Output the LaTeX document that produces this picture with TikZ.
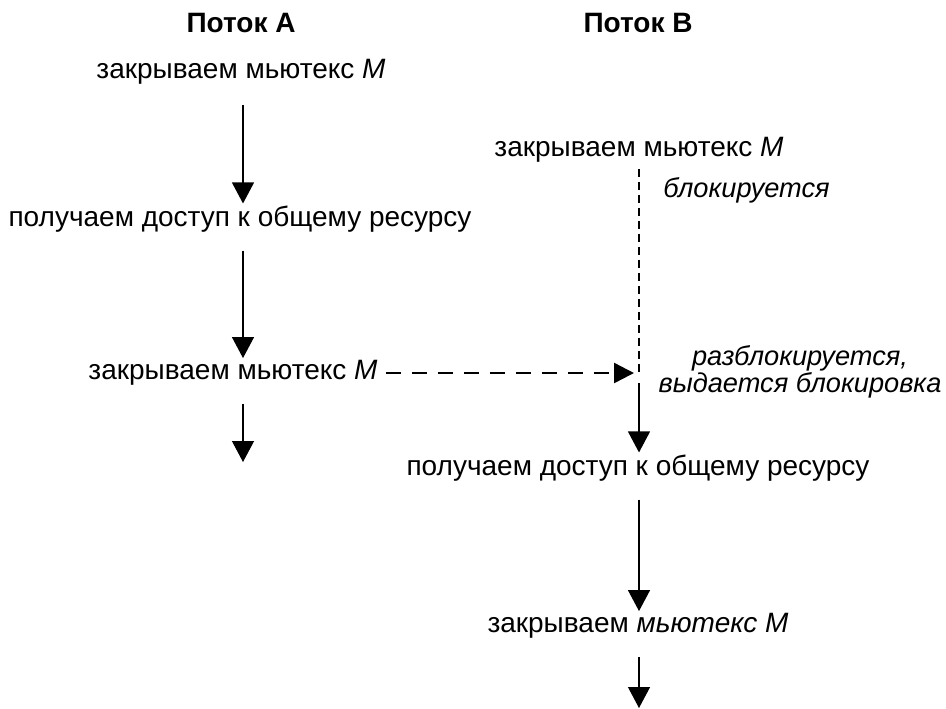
\documentclass[tikz,border=0pt]{standalone}
\usepackage{fontspec}
\setmainfont{Liberation Sans}
\usepackage{tikz}
\usetikzlibrary{arrows.meta}
\tikzset{
  stepnode/.style={inner sep=1pt,font=\fontsize{14}{14}\selectfont},
  headnode/.style={inner sep=1pt,font=\fontsize{14}{14}\selectfont\bfseries},
  notenode/.style={inner sep=1pt,align=center,font=\fontsize{13.6}{13.6}\selectfont\itshape},
  flowarrow/.style={-{Triangle[length=10.5pt,width=11pt]},line width=0.6pt},
  waitline/.style={line width=1pt,dash pattern=on 4pt off 2.5pt},
  signalarrow/.style={-{Triangle[length=10pt,width=10pt]},line width=1.2pt,
    dash pattern=on 7.5pt off 5.5pt}
}
\begin{document}
\begin{tikzpicture}[x=0.5pt,y=-0.5pt]
  \useasboundingbox (0,0) rectangle (946,708);
  % headers
  \node[headnode] (headA) at (241,23) {Поток A};
  \node[headnode] (headB) at (638,23) {Поток B};
  % thread A
  \node[stepnode] (aLock) at (241,72) {закрываем мьютекс \textit{M}};
  \node[stepnode] (aUse) at (240,219) {получаем доступ к общему ресурсу};
  \node[stepnode] (aUnlock) at (233,373) {закрываем мьютекс \textit{M}};
  \coordinate (aEnd) at (243,462);
  \draw[flowarrow,shorten <=9pt] (aLock.south -| aEnd) -- (aUse.north -| aEnd);
  \draw[flowarrow,shorten <=8pt] (aUse.south -| aEnd) -- (aUnlock.north -| aEnd);
  \draw[flowarrow,shorten <=8pt] (aUnlock.south -| aEnd) -- (aEnd);
  % thread B
  \node[stepnode] (bLock) at (639,150) {закрываем мьютекс \textit{M}};
  \coordinate (bGrant) at (639,373);
  \node[stepnode] (bUse) at (638,468) {получаем доступ к общему ресурсу};
  \node[stepnode] (bUnlock) at (638,626) {закрываем \textit{мьютекс M}};
  \coordinate (bEnd) at (639,708);
  \node[notenode,anchor=west] (bBlocked) at (661,190) {блокируется};
  \node[notenode] (bGranted) at (800,372) {разблокируется,\\выдается блокировка};
  \draw[waitline,shorten <=2pt] (bLock.south -| bGrant) -- (bGrant);
  \draw[signalarrow,shorten <=3pt,shorten >=2.5pt] (aUnlock.east) -- (aUnlock.east -| bGrant);
  \draw[flowarrow,shorten <=5pt] (bGrant) -- (bUse.north -| bGrant);
  \draw[flowarrow,shorten <=8pt] (bUse.south -| bGrant) -- (bUnlock.north -| bGrant);
  \draw[flowarrow,shorten <=8pt] (bUnlock.south -| bGrant) -- (bEnd);
\end{tikzpicture}
\end{document}
